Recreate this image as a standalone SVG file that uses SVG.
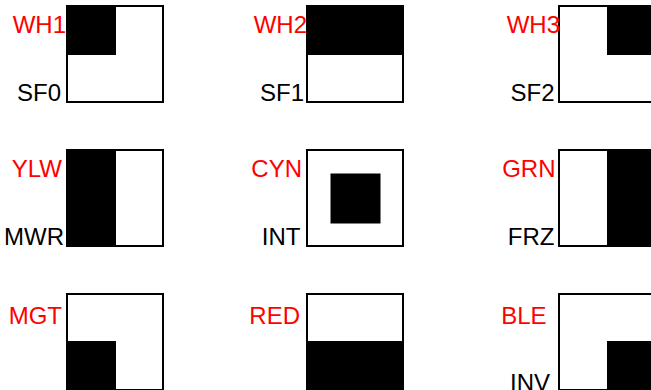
<svg xmlns="http://www.w3.org/2000/svg" width="651" height="390" viewBox="0 0 651 390">
<style>
.box{fill:#fff;stroke:#000;stroke-width:2}
.blk{fill:#000;stroke:none}
.t{font-family:"Liberation Sans",Arial,sans-serif;font-size:24px;text-anchor:end}
.r{fill:#ff0000}
.k{fill:#000}
</style>
<rect width="651" height="390" fill="#fff"/>
<g id="wh1">
<rect class="box" x="67" y="6" width="96" height="96"/>
<rect class="blk" x="67" y="6" width="49" height="49"/>
<text class="t r" x="66" y="33">WH1</text>
<text class="t k" x="61" y="101">SF0</text>
</g>
<g id="wh2">
<rect class="box" x="307" y="6" width="96" height="96"/>
<rect class="blk" x="307" y="6" width="96" height="49"/>
<text class="t r" x="307" y="33">WH2</text>
<text class="t k" x="304" y="101">SF1</text>
</g>
<g id="wh3">
<rect class="box" x="559" y="6" width="96" height="96"/>
<rect class="blk" x="607" y="6" width="48" height="49"/>
<text class="t r" x="560" y="33">WH3</text>
<text class="t k" x="554.5" y="101">SF2</text>
</g>
<g id="ylw">
<rect class="box" x="67" y="150" width="96" height="96"/>
<rect class="blk" x="67" y="150" width="49" height="96"/>
<text class="t r" x="62" y="177">YLW</text>
<text class="t k" x="64" y="244.5">MWR</text>
</g>
<g id="cyn">
<rect class="box" x="307" y="150" width="96" height="96"/>
<rect class="blk" x="330.5" y="173.5" width="50" height="50"/>
<text class="t r" x="302" y="177">CYN</text>
<text class="t k" x="300.5" y="244.5">INT</text>
</g>
<g id="grn">
<rect class="box" x="559" y="150" width="96" height="96"/>
<rect class="blk" x="607" y="150" width="48" height="96"/>
<text class="t r" x="555.5" y="177">GRN</text>
<text class="t k" x="554.5" y="244.5">FRZ</text>
</g>
<g id="mgt">
<rect class="box" x="67" y="294" width="96" height="96"/>
<rect class="blk" x="67" y="341" width="49" height="49"/>
<text class="t r" x="62" y="324">MGT</text>
</g>
<g id="red">
<rect class="box" x="307" y="294" width="96" height="96"/>
<rect class="blk" x="307" y="341" width="96" height="49"/>
<text class="t r" x="300" y="324">RED</text>
</g>
<g id="ble">
<rect class="box" x="559" y="294" width="96" height="96"/>
<rect class="blk" x="607" y="341" width="48" height="49"/>
<text class="t r" x="546.5" y="324">BLE</text>
<text class="t k" x="550" y="390.5">INV</text>
</g>
<g id="connectors"/>
</svg>
